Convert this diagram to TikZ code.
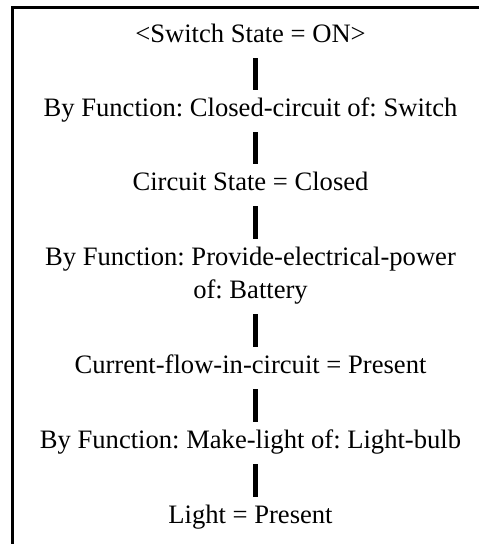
\documentclass[tikz,border=0pt]{standalone}
\usepackage{fontspec}
\setmainfont{Liberation Serif}
\frenchspacing
\begin{document}
\begin{tikzpicture}[x=1pt,y=-1pt,
  lbl/.style={anchor=base,inner sep=0pt,font=\fontsize{26.6}{33}\selectfont,align=center},
  bar/.style={line width=5pt}]
  \useasboundingbox (0,0) rectangle (479,544);
  \draw[line width=3pt] (12.5,544) -- (12.5,7) -- (479,7);
  \node[lbl] (t1) at (250.5,42) {\textless Switch State = ON\textgreater};
  \node[lbl] (t2) at (250.5,116) {By Function: Closed-circuit of: Switch};
  \node[lbl] (t3) at (250.5,190) {Circuit State = Closed};
  \node[lbl,anchor=north] (t4) at (250.5,246.8) {By Function: Provide-electrical-power\\of: Battery};
  \node[lbl] (t5) at (250.5,373) {Current-flow-in-circuit = Present};
  \node[lbl] (t6) at (250.5,448) {By Function: Make-light of: Light-bulb};
  \node[lbl] (t7) at (250.5,523) {Light = Present};
  \draw[bar] ([xshift=4.5pt,yshift=-16pt]t1.base) -- ([xshift=4.5pt,yshift=26pt]t2.base);
  \draw[bar] ([xshift=4.5pt,yshift=-16pt]t2.base) -- ([xshift=4.5pt,yshift=26pt]t3.base);
  \draw[bar] ([xshift=4.5pt,yshift=-16pt]t3.base) -- ([xshift=4.5pt,yshift=8pt]t4.north);
  \draw[bar] ([xshift=4.5pt,yshift=-10pt]t4.south) -- ([xshift=4.5pt,yshift=26pt]t5.base);
  \draw[bar] ([xshift=4.5pt,yshift=-16pt]t5.base) -- ([xshift=4.5pt,yshift=26pt]t6.base);
  \draw[bar] ([xshift=4.5pt,yshift=-16pt]t6.base) -- ([xshift=4.5pt,yshift=26pt]t7.base);
\end{tikzpicture}
\end{document}
